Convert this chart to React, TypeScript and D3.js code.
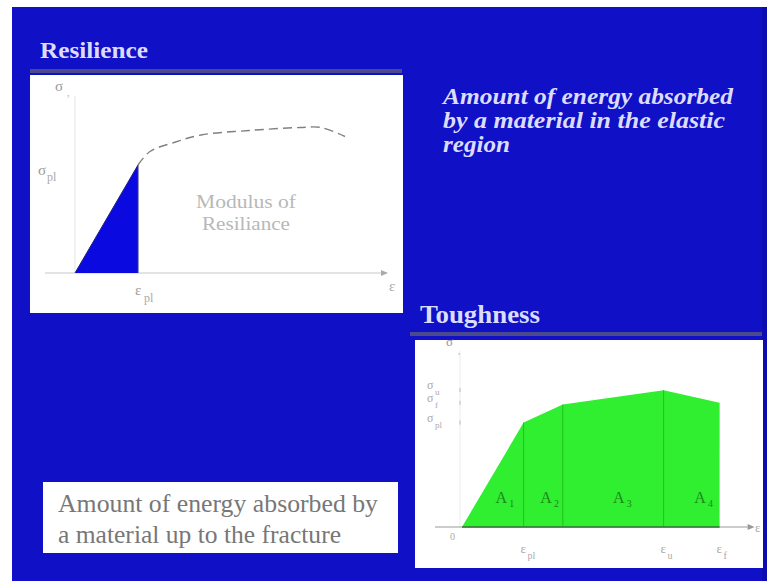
import React from "react";
import * as d3 from "d3";

// Resilience curve (strain, stress) in arbitrary units
const resStrain = [0, 2.1, 2.5, 3.3, 4.2, 5.8, 7.5, 8.2, 9.0];
const resStress = [0, 7.2, 8.1, 8.7, 9.2, 9.5, 9.7, 9.7, 9.1];
const resElasticEnd = 2.1;

// Toughness curve (strain, stress)
const tStrain = [0, 2.2, 3.6, 7.2, 9.2];
const tStress = [0, 5.8, 6.8, 7.6, 6.9];
const tAreaLabels = ["1", "2", "3", "4"];
const tAreaLabelX = [1.4, 3.0, 5.6, 8.5];
const tXLabels = [
  { s: 2.2, sub: "pl" },
  { s: 7.2, sub: "u" },
  { s: 9.2, sub: "f" },
];
const tYLabels = [
  { v: 7.6, sub: "u" },
  { v: 6.9, sub: "f" },
  { v: 5.8, sub: "pl" },
];

const rightText = [
  "Amount of energy absorbed",
  "by a material in the elastic",
  "region",
];
const rightTextWidths = [290, 282, 67];
const boxText = ["Amount of energy absorbed by", "a material up to the fracture"];
const boxTextWidths = [320, 283];

const BLUE = "#1010c6";
const LAV = "#dcdcff";
const SERIF = "'Liberation Serif', 'Times New Roman', serif";

export default function App() {
  // Resilience scales
  const rx = d3.scaleLinear().domain([0, 10]).range([75, 375]);
  const ry = d3.scaleLinear().domain([0, 10]).range([273, 123]);
  const resPts = resStrain.map((s, i) => [s, resStress[i]] as [number, number]);
  const elastic = resPts.filter((p) => p[0] <= resElasticEnd);
  const plastic = resPts.filter((p) => p[0] >= resElasticEnd);
  const triArea = d3
    .area<[number, number]>()
    .x((d) => rx(d[0]))
    .y0(ry(0))
    .y1((d) => ry(d[1]));
  const plasticLine = d3
    .line<[number, number]>()
    .x((d) => rx(d[0]))
    .y((d) => ry(d[1]))
    .curve(d3.curveCatmullRom);
  const elasticLine = d3
    .line<[number, number]>()
    .x((d) => rx(d[0]))
    .y((d) => ry(d[1]));

  // Toughness scales
  const tx = d3.scaleLinear().domain([0, 10]).range([462, 742]);
  const ty = d3.scaleLinear().domain([0, 10]).range([527, 347]);
  const tPts = tStrain.map((s, i) => [s, tStress[i]] as [number, number]);
  const tArea = d3
    .area<[number, number]>()
    .x((d) => tx(d[0]))
    .y0(ty(0))
    .y1((d) => ty(d[1]));

  return (
    <svg
      width={767}
      height={581}
      style={{ position: "absolute", left: 0, top: 0, fontFamily: SERIF }}
    >
      <rect x={0} y={0} width={767} height={581} fill="#ffffff" />
      <rect x={12} y={7} width={755} height={574} fill={BLUE} />
      <rect x={762} y={7} width={5} height={574} fill="#0c0cb0" />

      {/* Resilience title */}
      <text x={40} y={58} fontSize={24} fontWeight="bold" fill={LAV} textLength={108} lengthAdjust="spacingAndGlyphs">
        Resilience
      </text>
      <rect x={30} y={69} width={372} height={4} fill="#4a4a8c" />
      <rect x={30} y={75} width={373} height={238} fill="#ffffff" />

      {/* Resilience chart */}
      <line x1={rx(0)} x2={rx(0)} y1={ry(11.8)} y2={ry(0)} stroke="#e4e4e4" strokeWidth={1} />
      <line x1={45} x2={rx(10.2)} y1={ry(0)} y2={ry(0)} stroke="#c8c8c8" strokeWidth={1} />
      <path d={`M${rx(10.2)},${ry(0) - 3} L${rx(10.2) + 7},${ry(0)} L${rx(10.2)},${ry(0) + 3} Z`} fill="#aaa" />
      <path d={triArea(elastic) || ""} fill="#0a0ae0" />
      <path d={elasticLine(elastic) || ""} fill="none" stroke="#202080" strokeWidth={1} />
      <line x1={rx(resElasticEnd)} x2={rx(resElasticEnd)} y1={ry(resStress[1])} y2={ry(0)} stroke="#303090" strokeWidth={1} />
      <path d={plasticLine(plastic) || ""} fill="none" stroke="#808080" strokeWidth={1.4} strokeDasharray="9 5" />
      <text x={55} y={91} fontSize={15} fill="#999">σ</text>
      <text x={67} y={96} fontSize={10} fill="#aaa">,</text>
      <text x={38} y={175} fontSize={15} fill="#999">σ</text>
      <text x={47} y={181} fontSize={12} fill="#aaa">pl</text>
      <text x={rx(resElasticEnd) - 3} y={295} fontSize={15} fill="#999">ε</text>
      <text x={rx(resElasticEnd) + 6} y={302} fontSize={12} fill="#aaa">pl</text>
      <text x={389} y={291} fontSize={15} fill="#aaa">ε</text>
      <text x={246} y={208} fontSize={19} fill="#b8b8b8" textAnchor="middle" textLength={100} lengthAdjust="spacingAndGlyphs">Modulus of</text>
      <text x={246} y={230} fontSize={19} fill="#b8b8b8" textAnchor="middle" textLength={88} lengthAdjust="spacingAndGlyphs">Resiliance</text>

      {/* Right text */}
      {rightText.map((t, i) => (
        <text
          key={i}
          x={443}
          y={104 + i * 24}
          fontSize={23}
          fontWeight="bold"
          fontStyle="italic"
          fill={LAV}
          textLength={rightTextWidths[i]}
          lengthAdjust="spacingAndGlyphs"
        >
          {t}
        </text>
      ))}

      {/* Toughness */}
      <text x={420} y={323} fontSize={25} fontWeight="bold" fill={LAV} textLength={120} lengthAdjust="spacingAndGlyphs">
        Toughness
      </text>
      <rect x={410} y={332} width={352} height={4} fill="#4a4a8c" />
      <rect x={415} y={340} width={348} height={228} fill="#ffffff" />

      <line x1={tx(0) - 2} x2={tx(0) - 2} y1={ty(9.8)} y2={ty(0)} stroke="#ececec" strokeWidth={1} />
      <path d={tArea(tPts) || ""} fill="#30ee30" />
      {tStrain.slice(1, 4).map((s, i) => (
        <line key={i} x1={tx(s)} x2={tx(s)} y1={ty(tStress[i + 1])} y2={ty(0)} stroke="#22c022" strokeWidth={1} />
      ))}
      <line x1={435} x2={tx(10.2)} y1={ty(0)} y2={ty(0)} stroke="#999" strokeWidth={1} />
      <line x1={tx(0)} x2={tx(tStrain[tStrain.length - 1])} y1={ty(0)} y2={ty(0)} stroke="#2a7a2a" strokeWidth={1.5} />
      <path d={`M${tx(10.2)},${ty(0) - 3} L${tx(10.2) + 7},${ty(0)} L${tx(10.2)},${ty(0) + 3} Z`} fill="#999" />
      {tAreaLabels.map((l, i) => (
        <g key={i}>
          <text x={tx(tAreaLabelX[i])} y={503} fontSize={16} fill="#1a8a1a" textAnchor="middle">A</text>
          <text x={tx(tAreaLabelX[i]) + 8} y={507} fontSize={10} fill="#1a8a1a">{l}</text>
        </g>
      ))}
      {tXLabels.map((l, i) => (
        <g key={i}>
          <text x={tx(l.s) - 3} y={553} fontSize={13} fill="#aaa">ε</text>
          <text x={tx(l.s) + 4} y={559} fontSize={10} fill="#aaa">{l.sub}</text>
        </g>
      ))}
      <text x={755} y={532} fontSize={13} fill="#aaa">ε</text>
      <text x={450} y={540} fontSize={10} fill="#aaa">0</text>
      <text x={446} y={346} fontSize={13} fill="#999">σ</text>
      <text x={458} y={354} fontSize={9} fill="#aaa">,</text>
      {tYLabels.map((l, i) => (
        <g key={i}>
          <text x={427} y={ty(l.v) - 1} fontSize={12} fill="#aaa">σ</text>
          <text x={435} y={ty(l.v) + 5} fontSize={9} fill="#aaa">{l.sub}</text>
          <line x1={460} x2={460} y1={ty(l.v) - 2} y2={ty(l.v) + 2} stroke="#bbb" strokeWidth={1} />
        </g>
      ))}

      {/* Bottom-left box */}
      <rect x={43} y={482} width={355} height={71} fill="#ffffff" />
      {boxText.map((t, i) => (
        <text
          key={i}
          x={58}
          y={512 + i * 31}
          fontSize={26}
          fill="#777777"
          textLength={boxTextWidths[i]}
          lengthAdjust="spacingAndGlyphs"
        >
          {t}
        </text>
      ))}
    </svg>
  );
}
